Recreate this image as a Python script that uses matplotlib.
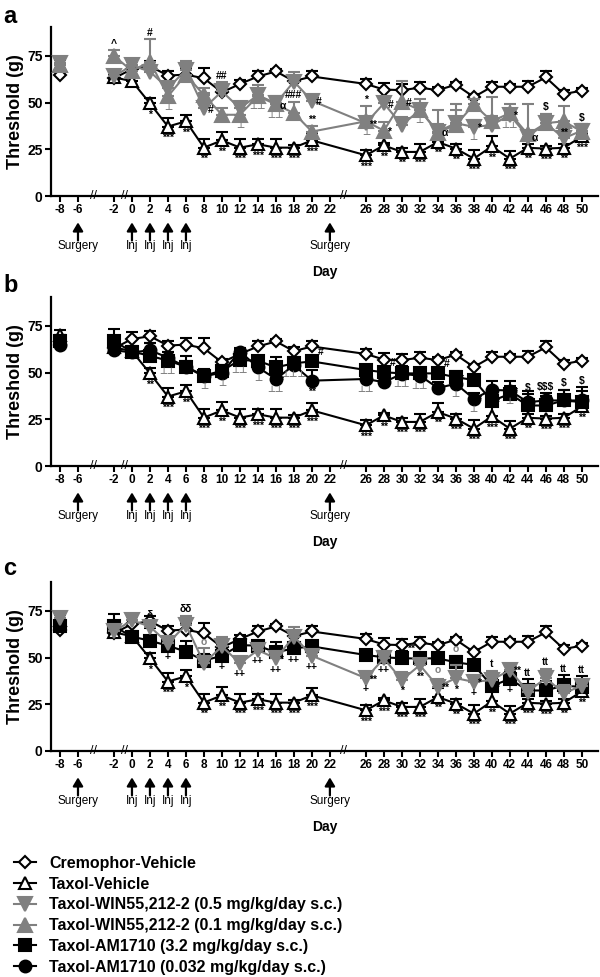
import numpy as np
import matplotlib
matplotlib.use("Agg")
import matplotlib.pyplot as plt
from matplotlib.transforms import offset_copy

plt.rcParams['font.family'] = ['Liberation Sans', 'DejaVu Sans']

GRAY = '#808080'

# testing days (day -8 is separated from the rest by an axis break)
days = [-8, -2, 0, 2, 4, 6, 8, 10, 12, 14, 16, 18, 20,
        26, 28, 30, 32, 34, 36, 38, 40, 42, 44, 46, 48, 50]

# mean paw withdrawal threshold (g) and SEM
cremophor = [65, 63, 68, 69.5, 64.5, 65, 63, 55.5, 60, 64, 66.7, 61.5, 64,
             60, 57, 56.7, 58, 56.7, 59.6, 53, 58.5, 58.5, 58.5, 63.5, 54.6, 56.4]
cremophor_sem = [3, 2, 3.5, 3, 2.6, 3.4, 5.4, 2, 2, 2.7, 1.5, 2, 2.7,
                 2.6, 3.3, 3.3, 2.8, 1.5, 1.5, 1.5, 2.8, 1.5, 3.2, 3.2, 2, 1.5]

taxol_veh = [70, 63.5, 61.5, 49.6, 37.2, 40, 25.9, 29.8, 25.9, 27.7, 25.9, 25.9, 29.8,
             21.8, 27.1, 23.6, 23.6, 28.9, 25.4, 20, 26.6, 20, 25.8, 25.4, 25.8, 31.9]
taxol_veh_sem = [3, 1.5, 2, 3, 4.6, 3.4, 4.4, 4.4, 4.8, 3, 4.4, 1.5, 3.9,
                 2.7, 1.5, 2.3, 4.4, 4.8, 2.6, 4.5, 5.3, 4.1, 2.2, 1.5, 2.2, 1.5]

win_05 = [71, 64, 70, 66.6, 57.7, 67.5, 47, 56, 47, 54, 49.6, 61.3, 51,
          39, 49.6, 38, 46, 34.5, 39, 37, 38, 43.4, 31.8, 39, 30.9, 35]
win_05_sem = [3, 3, 2, 3, 2.5, 5, 8, 5, 3.5, 3, 3, 5, 3,
              3.5, 3, 4.5, 3, 4, 7, 3.5, 5, 3, 3, 5, 4.5, 3.5]

win_01 = [70, 75, 67, 72, 53.4, 65, 54, 43.5, 43.5, 53.5, 49, 44.4, 34.5,
          40, 35, 50.5, 46, 34, 38, 49, 40, 44.4, 33, 39, 40, 34.5]
win_01_sem = [4, 3, 3, 12, 6, 6, 4, 3.5, 6, 6, 4.5, 6, 3,
              8, 4.5, 11, 6, 12, 11, 3, 13, 5, 16, 5, 8, 4]

am_high = [67, 66.7, 61.3, 59, 56.4, 53.2, 48.4, 51, 56.7, 56.4, 52.8, 55, 56,
           51.4, 50.2, 49.6, 49.6, 49.6, 47.5, 46.1, 34.8, 38.6, 32.4, 32.4, 35.1, 34.2]
am_high_sem = [3, 6.5, 3, 7, 4.4, 5.8, 3.6, 3, 2, 2.6, 5.4, 3.5, 2,
               2.3, 3, 4, 3, 3, 3.5, 2.5, 4, 4, 6, 5, 5.5, 6]

am_low = [65, 62, 60.8, 62, 58, 53, 48, 50, 61.3, 52.8, 46.6, 54, 45.7,
          46.6, 44.9, 49.3, 48.4, 41.8, 44, 36, 40.8, 40.4, 34.2, 35.1, 35.1, 35.1]
am_low_sem = [3, 2, 2, 4, 3, 3, 2, 2, 2, 3.6, 2, 2, 5.7,
              2.5, 2, 3, 3, 3, 4, 3, 4.9, 5.3, 6, 4, 5.7, 7]

labels = {
    'crem': 'Cremophor-Vehicle',
    'taxol': 'Taxol-Vehicle',
    'win05': 'Taxol-WIN55,212-2 (0.5 mg/kg/day s.c.)',
    'win01': 'Taxol-WIN55,212-2 (0.1 mg/kg/day s.c.)',
    'amh': 'Taxol-AM1710 (3.2 mg/kg/day s.c.)',
    'aml': 'Taxol-AM1710 (0.032 mg/kg/day s.c.)',
}

xticks = [-8, -6, -2, 0, 2, 4, 6, 8, 10, 12, 14, 16, 18, 20, 22,
          26, 28, 30, 32, 34, 36, 38, 40, 42, 44, 46, 48, 50]
break_days = [-4.3, -0.8, 23.5]
arrow_days = [-6, 0, 2, 4, 6, 22]
arrow_text = ['Surgery', 'Inj', 'Inj', 'Inj', 'Inj', 'Surgery']

# significance marks (Taxol-vehicle vs cremophor), per panel
stars_a = ['*', '***', '**', '**', '**', '***', '***', '***', '***', '***',
           '***', '**', '**', '***', '**', '**', '***', '**', '***', '**', '***', '**', '***']
stars_b = ['**', '***', '**', '***', '**', '***', '***', '***', '***', '***',
           '***', '**', '***', '***', '**', '***', '***', '***', '***', '**', '***', '***', '**']
stars_c = ['*', '***', '*', '**', '**', '***', '***', '***', '***', '***',
           '***', '***', '***', '***', '**', '**', '***', '**', '***', '***', '***', '**', '**']

# other marks: (series, day, text, where)
marks_a = [('win01', -2, '^', 'above'), ('win01', 2, '#', 'above'), ('win01', 4, '⊥', 'below'),
           ('win05', 6, '⊥⊥', 'below'), ('win05', 8, '#', 'right'), ('win05', 10, '##', 'above'),
           ('win01', 12, '⊥', 'below'), ('win01', 14, '⊥⊥', 'below'), ('win01', 16, 'α', 'right'),
           ('win01', 16, '⊥⊥', 'below'), ('win01', 18, '###', 'above'), ('win05', 20, '#', 'right'),
           ('win01', 20, '**', 'above'), ('win01', 26, '*', 'above'), ('win01', 26, '⊥', 'below'),
           ('win05', 26, '**', 'right'), ('win05', 28, '#', 'right'), ('win01', 28, '*', 'right'),
           ('win01', 30, '#', 'right'), ('win05', 32, '⊥', 'below'), ('win05', 34, 'α', 'right'),
           ('win05', 38, '*', 'right'), ('win05', 38, '⊥', 'below'), ('win05', 42, '*', 'right'),
           ('win05', 42, '⊥⊥', 'below'), ('win05', 44, 'α', 'right'), ('win05', 46, '$', 'above'),
           ('win01', 48, '**', 'below'), ('win05', 50, '$', 'above')]
marks_b = [('amh', 4, '⊥⊥', 'below'), ('amh', 8, '⊥', 'below'), ('aml', 10, '⊥', 'below'),
           ('amh', 12, '⊥⊥', 'below'), ('aml', 14, '⊥', 'below'), ('aml', 16, '*', 'right'),
           ('aml', 16, '⊥⊥', 'below'), ('amh', 18, '⊥⊥⊥', 'below'), ('amh', 20, '#', 'upright'),
           ('aml', 20, '**', 'below'), ('aml', 26, '⊥⊥', 'below'), ('amh', 28, '#', 'upright'),
           ('aml', 30, '⊥⊥', 'below'), ('aml', 32, '⊥⊥', 'below'), ('amh', 34, '#', 'upright'),
           ('amh', 36, '*', 'right'), ('aml', 36, '⊥', 'below'), ('aml', 38, '*', 'right'),
           ('aml', 38, '⊥', 'below'), ('amh', 40, '*', 'right'), ('aml', 42, '⊥', 'below'),
           ('aml', 42, '*', 'right'), ('amh', 44, '$', 'above'), ('aml', 46, '$$$', 'above'),
           ('aml', 48, '$', 'above'), ('aml', 50, '$', 'above')]
marks_c = [('win05', 2, 'δ', 'above'), ('win05', 6, 'δδ', 'above'), ('amh', 4, '+', 'below'),
           ('win05', 8, 'o', 'above'), ('amh', 10, '+', 'below'), ('win05', 12, '++', 'below'),
           ('win05', 14, '++', 'below'), ('win05', 16, '++', 'below'), ('win05', 16, '*', 'right'),
           ('amh', 18, '++', 'below'), ('win05', 20, '++', 'below'), ('win05', 26, '**', 'right'),
           ('win05', 26, '+', 'below'), ('win05', 28, '++', 'below'), ('amh', 30, '**', 'upright'),
           ('win05', 30, '*', 'below'), ('win05', 32, '**', 'below'), ('amh', 34, 'o', 'below'),
           ('win05', 34, '**', 'right'), ('amh', 36, 'o', 'above'), ('win05', 36, '*', 'below'),
           ('win05', 38, '*', 'right'), ('win05', 38, '+', 'below'), ('win05', 40, 't', 'above'),
           ('amh', 40, '*', 'right'), ('win05', 42, '**', 'right'), ('amh', 42, '+', 'below'),
           ('amh', 44, 'tt', 'above'), ('win05', 46, 'tt', 'above'), ('amh', 48, 'tt', 'above'),
           ('amh', 50, 'tt', 'above')]

series = {
    'crem': (cremophor, cremophor_sem),
    'taxol': (taxol_veh, taxol_veh_sem),
    'win05': (win_05, win_05_sem),
    'win01': (win_01, win_01_sem),
    'amh': (am_high, am_high_sem),
    'aml': (am_low, am_low_sem),
}

styles = {
    'crem': dict(marker='D', ms=6.2, mfc='white', mec='k', color='k'),
    'taxol': dict(marker='^', ms=9, mfc='white', mec='k', color='k'),
    'win05': dict(marker='v', ms=9.5, mfc=GRAY, mec=GRAY, color=GRAY),
    'win01': dict(marker='^', ms=9.5, mfc=GRAY, mec=GRAY, color=GRAY),
    'amh': dict(marker='s', ms=8, mfc='k', mec='k', color='k'),
    'aml': dict(marker='o', ms=8.5, mfc='k', mec='k', color='k'),
}

fig = plt.figure(figsize=(6, 9.77), dpi=100)
W, H = 600, 977


def add_panel(top_px):
    return fig.add_axes([51 / W, 1 - (top_px + 169) / H, 547 / W, 169 / H])


def draw(ax, key, z):
    vals, sem = series[key]
    st = styles[key]
    d = np.array(days, float)
    v = np.array(vals, float)
    e = np.array(sem, float)
    ax.errorbar(d, v, yerr=[np.zeros_like(e), e], fmt='none', ecolor=st['color'],
                elinewidth=1.5, capsize=4.5, capthick=1.5, zorder=z)
    line, = ax.plot(np.insert(d, 1, np.nan), np.insert(v, 1, np.nan), lw=1.5,
                    mew=1.5, zorder=z + 0.5, label=labels[key], **st)
    return line


def note(ax, key, day, txt, where):
    vals, sem = series[key]
    i = days.index(day)
    col = GRAY if txt[0] in '⊥o' else 'k'
    size = 6.5 if txt[0] == '⊥' else 7.5
    kw = dict(textcoords='offset points', fontsize=size, fontweight='bold', color=col, zorder=10)
    if where == 'below':
        ax.annotate(txt, (day, vals[i]), xytext=(0, -4.5), ha='center', va='top', **kw)
    elif where == 'above':
        ax.annotate(txt, (day, vals[i] + sem[i]), xytext=(0, 1), ha='center', va='bottom', **kw)
    elif where == 'upright':
        ax.annotate(txt, (day, vals[i]), xytext=(4, 3), ha='left', va='bottom', **kw)
    else:
        ax.annotate(txt, (day, vals[i]), xytext=(2.5, -1), ha='left', va='center', **kw)


def style_axes(ax):
    ax.set_xlim(-9, 51.8)
    ax.set_ylim(0, 90.5)
    for s in ['top', 'right']:
        ax.spines[s].set_visible(False)
    for s in ['left', 'bottom']:
        ax.spines[s].set_linewidth(1.6)
    ax.set_yticks([0, 25, 50, 75])
    ax.set_yticklabels(['0', '25', '50', '75'], fontweight='bold', fontsize=10)
    ax.set_xticks(xticks)
    ax.set_xticklabels([str(t) for t in xticks], fontweight='bold', fontsize=8.5)
    ax.tick_params(width=1.5, length=4, pad=2)
    ax.set_ylabel('Threshold (g)', fontweight='bold', fontsize=13)
    ax.yaxis.set_label_coords(-0.05, 0.5)
    ax.set_xlabel('Day', fontweight='bold', fontsize=10)
    ax.xaxis.set_label_coords(0.5, -0.41)
    tr = ax.get_xaxis_transform()
    for b in break_days:
        ax.text(b, 0, '//', transform=tr, ha='center', va='center', fontsize=9, clip_on=False)
    tip = offset_copy(tr, fig=fig, y=-19, units='points')
    lab = offset_copy(tr, fig=fig, y=-36, units='points')
    for d, t in zip(arrow_days, arrow_text):
        ax.annotate('', xy=(d, 0), xycoords=tip, xytext=(0, -13), textcoords='offset points',
                    arrowprops=dict(arrowstyle='-|>,head_length=0.5,head_width=0.3', lw=1.6,
                                    color='k', shrinkA=0, shrinkB=0))
        ax.text(d, 0, t, transform=lab, ha='center', va='center', fontsize=8.5)


handles = {}
panels = [
    (27, ['crem', 'taxol', 'win01', 'win05'], stars_a, marks_a, 'a', 23),
    (297, ['crem', 'taxol', 'amh', 'aml'], stars_b, marks_b, 'b', 292),
    (582, ['crem', 'taxol', 'amh', 'win05'], stars_c, marks_c, 'c', 575),
]
for top, keys, stars, marks, letter, base in panels:
    ax = add_panel(top)
    for z, k in enumerate(keys):
        handles[k] = draw(ax, k, 2 + 2 * z)
    for d, s in zip(days[3:], stars):
        note(ax, 'taxol', d, s, 'below')
    for k, d, t, w in marks:
        note(ax, k, d, t, w)
    style_axes(ax)
    fig.text(3 / W, 1 - base / H, letter, fontsize=17, fontweight='bold', va='baseline')

order = ['crem', 'taxol', 'win05', 'win01', 'amh', 'aml']
fig.legend([handles[k] for k in order], [labels[k] for k in order],
           loc='upper left', bbox_to_anchor=(14 / W, 1 - 856 / H), frameon=False,
           prop=dict(weight='bold', size=11.5), handlelength=1.4, handletextpad=0.8,
           labelspacing=0.36, borderpad=0, borderaxespad=0)

fig.savefig('out.png', dpi=100)
